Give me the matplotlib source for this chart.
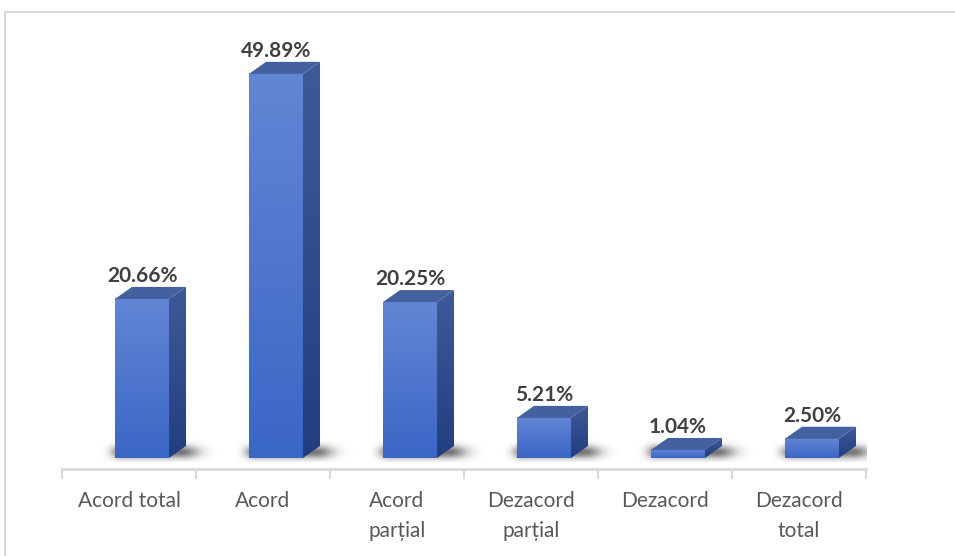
import numpy as np
import matplotlib.pyplot as plt
from matplotlib.patches import Polygon
from matplotlib.colors import LinearSegmentedColormap

plt.rcParams['font.family'] = ['Lato', 'DejaVu Sans']

categories = ["Acord total", "Acord", "Acord\nparțial", "Dezacord\nparțial", "Dezacord", "Dezacord\ntotal"]
values = [20.66, 49.89, 20.25, 5.21, 1.04, 2.50]
labels = ["20.66%", "49.89%", "20.25%", "5.21%", "1.04%", "2.50%"]

W, H = 955, 556
fig = plt.figure(figsize=(W / 100, H / 100), dpi=100)

# frame (top + left light gray line)
fig.add_artist(plt.Line2D([5 / W, 1], [1 - 12 / H, 1 - 12 / H], color="#d9d9d9", lw=1.5))
fig.add_artist(plt.Line2D([5 / W, 5 / W], [0, 1 - 12 / H], color="#d9d9d9", lw=1.5))

px_y = 7.70           # pixels per percent
base_px = 458         # bar base pixel row
axis_px = 469         # category axis pixel row
ymin = -(axis_px - base_px) / px_y
ymax = (base_px - 12) / px_y
ax = fig.add_axes([62 / W, (H - axis_px) / H, (866 - 62) / W, (axis_px - 12) / H])
ax.set_xlim(0, len(categories))
ax.set_ylim(ymin, ymax)

cat_px = (866 - 62) / len(categories)
dx = 17 / cat_px      # depth offset in x
dy = 12 / px_y        # depth offset in y
f_left, f_right = -14 / cat_px, 40 / cat_px

front_cmap = LinearSegmentedColormap.from_list("front", ["#3a66c6", "#6386d4"])
side_cmap = LinearSegmentedColormap.from_list("side", ["#213e80", "#3e5a98"])
grad = np.linspace(0, 1, 256).reshape(-1, 1)

for i, v in enumerate(values):
    c = i + 0.5
    x0, x1 = c + f_left, c + f_right
    # soft shadow on the floor
    sx0, sx1 = x0 - 20 / cat_px, x1 + dx + 36 / cat_px
    nx, ny = 240, 60
    xs = np.linspace(sx0, sx1, nx)
    ys = np.linspace(-4, 20, ny)
    px = np.where(xs < x0 + 6 / cat_px,
                  np.exp(-((xs - (x0 + 6 / cat_px)) / (10 / cat_px)) ** 2),
                  np.where(xs > x1 + dx - 4 / cat_px,
                           np.exp(-((xs - (x1 + dx - 4 / cat_px)) / (17 / cat_px)) ** 2), 1.0))
    py = np.exp(-((ys - 6) / 6.5) ** 2)
    alpha = np.outer(py, px) * 0.6
    rgba = np.zeros((ny, nx, 4))
    rgba[..., :3] = 0.1
    rgba[..., 3] = alpha
    ax.imshow(rgba, extent=[sx0, sx1, -4 / px_y, 20 / px_y], origin="lower",
              aspect="auto", zorder=1, interpolation="bilinear")
    # front face
    ax.imshow(grad, extent=[x0, x1, 0, v], origin="lower", aspect="auto",
              cmap=front_cmap, zorder=3)
    # side face
    side = Polygon([[x1, 0], [x1 + dx, dy], [x1 + dx, v + dy], [x1, v]],
                   closed=True, facecolor="none", edgecolor="none")
    ax.add_patch(side)
    im = ax.imshow(grad, extent=[x1, x1 + dx, 0, v + dy], origin="lower",
                   aspect="auto", cmap=side_cmap, zorder=3)
    im.set_clip_path(side)
    # top face
    ax.add_patch(Polygon([[x0, v], [x0 + dx, v + dy], [x1 + dx, v + dy], [x1, v]],
                         closed=True, facecolor="#44619f", edgecolor="none", zorder=4))
    ax.text((x0 + x1) / 2, v + dy + 5 / px_y, labels[i], ha="center", va="baseline",
            fontsize=15, fontweight="bold", color="#404040", zorder=5)

ax.set_xticks(range(len(categories) + 1))
ax.set_xticklabels([])
ax.set_xticks([i + 0.5 for i in range(len(categories))], minor=True)
ax.set_xticklabels(categories, minor=True, fontsize=15, color="#595959", linespacing=1.6)
ax.tick_params(axis="x", which="major", length=7, width=1.5, color="#d9d9d9", direction="out")
ax.tick_params(axis="x", which="minor", length=0, pad=16)
ax.set_yticks([])
for s in ["top", "right", "left"]:
    ax.spines[s].set_visible(False)
ax.spines["bottom"].set_color("#d9d9d9")
ax.spines["bottom"].set_linewidth(2)
ax.patch.set_alpha(0)

fig.savefig("out.png", dpi=100)
